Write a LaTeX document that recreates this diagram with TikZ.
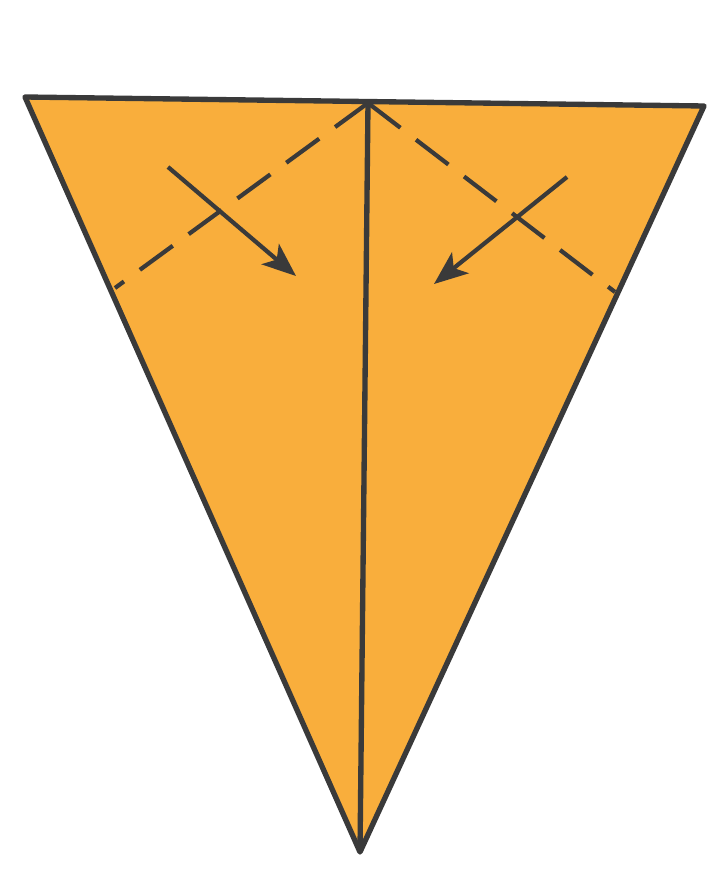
\documentclass[tikz,border=0pt]{standalone}
\usepackage{xcolor}
\usepackage{tikz}
\usetikzlibrary{arrows.meta}
\definecolor{paperOrange}{RGB}{249,174,60}
\definecolor{foldInk}{RGB}{58,58,58}

\begin{document}
\begin{tikzpicture}[x=0.025cm, y=-0.025cm,
  edge/.style={foldInk, line width=3.8pt, line join=round},
  valley/.style={foldInk, line width=3pt, dash pattern=on 29pt off 14pt},
  foldarrow/.style={foldInk, line width=3pt, -{Stealth[length=24pt, width=19pt, inset=6pt]}}]
\useasboundingbox (0,0) rectangle (724,894);
%
\coordinate (topleft) at (25,97);
\coordinate (topmid) at (368,103);
\coordinate (topright) at (704,106);
\coordinate (tip) at (360,852);
\coordinate (leftcrease) at (115,288);
\coordinate (rightcrease) at (615,292);
%
\fill[paperOrange] (topleft) -- (topright) -- (tip) -- cycle;
\draw[valley] (topmid) -- (leftcrease);
\draw[valley] (topmid) -- (rightcrease);
\draw[edge] (topmid) -- (tip);
\draw[edge] (topleft) -- (topright) -- (tip) -- cycle;
%
\coordinate (lstart) at (168,167);
\coordinate (lend) at (296,276);
\coordinate (rstart) at (567,177);
\coordinate (rend) at (434,284);
\draw[foldarrow] (lstart) -- (lend);
\draw[foldarrow] (rstart) -- (rend);
\end{tikzpicture}
\end{document}
